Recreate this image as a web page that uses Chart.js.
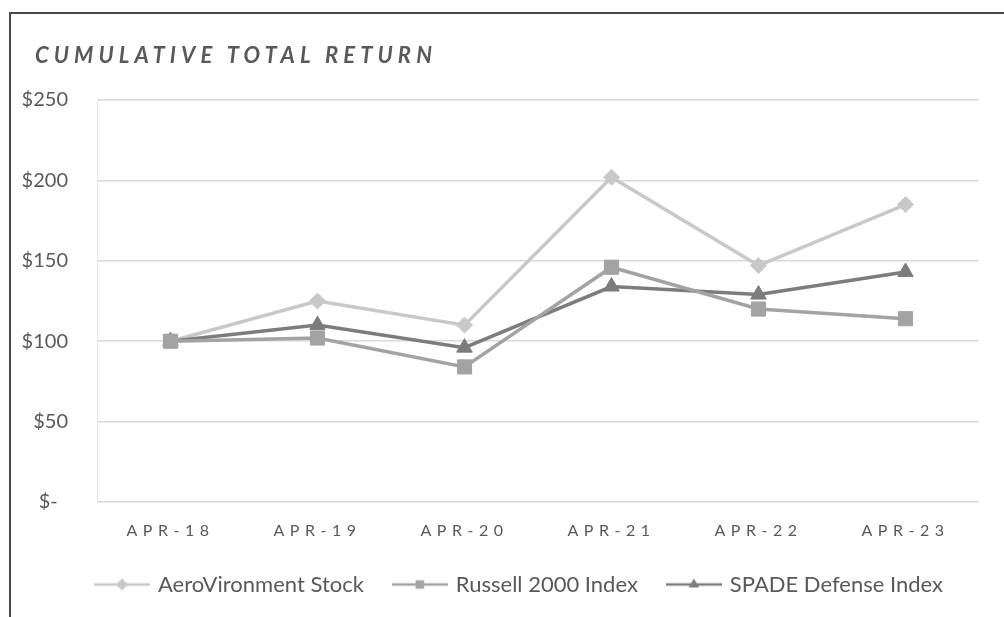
<!DOCTYPE html>
<html>
<head>
<meta charset="utf-8">
<script src="https://cdn.jsdelivr.net/npm/chart.js@4.4.0/dist/chart.umd.min.js"></script>
<style>
  html, body { margin: 0; padding: 0; background: #fff; }
  #wrap { position: relative; width: 1004px; height: 617px; overflow: hidden; }
  #frame { position: absolute; left: 9px; top: 12px; width: 1100px; height: 700px;
           border-top: 2px solid #4a4a4a; border-left: 2px solid #4a4a4a; }
  #title { position: absolute; left: 35px; top: 41px; font: italic bold 22px Lato;
           letter-spacing: 5.1px; color: #595959; white-space: nowrap; }
  canvas { position: absolute; left: 0; top: 0; }
</style>
</head>
<body>
<div id="wrap">
  <div id="frame"></div>
  <canvas id="returnChart" width="1004" height="617"></canvas>
  <div id="title">CUMULATIVE TOTAL RETURN</div>
</div>
<script>
// données
const categories = ['APR-18', 'APR-19', 'APR-20', 'APR-21', 'APR-22', 'APR-23'];
const seriesNames = ['AeroVironment Stock', 'Russell 2000 Index', 'SPADE Defense Index'];
const aeroValues = [100, 125, 110, 202, 147, 185];
const russellValues = [100, 102, 84, 146, 120, 114];
const spadeValues = [100, 110, 96, 134, 129, 143];
const yTickValues = [0, 50, 100, 150, 200, 250];
const yTickLabels = ['$-  ', '$50', '$100', '$150', '$200', '$250'];

const seriesColors = ['#c8c8c8', '#a3a3a3', '#7c7c7c'];
const seriesStyles = ['rectRot', 'rect', 'triangle'];
const seriesRadius = [8, 10, 9];

// petit symbole de légende : trait + marqueur
function legendSymbol(color, style, radius) {
  const c = document.createElement('canvas');
  c.width = 56;
  c.height = 20;
  const g = c.getContext('2d');
  g.strokeStyle = color;
  g.lineWidth = 2.5;
  g.beginPath();
  g.moveTo(0, 10);
  g.lineTo(56, 10);
  g.stroke();
  g.fillStyle = color;
  g.strokeStyle = color;
  Chart.helpers.drawPoint(g, { pointStyle: style, radius: radius, borderWidth: 0, rotation: 0 }, 28, 10);
  return c;
}

// espacement des lettres pour les étiquettes de l'axe X (dessinées après les séries)
const tickSpacing = {
  id: 'tickSpacing',
  afterDatasetsDraw(chart) { chart.ctx.letterSpacing = '5.5px'; },
  afterDraw(chart) { chart.ctx.letterSpacing = '0px'; }
};

// décale la légende pour l'aligner sous la zone du graphique
const legendShift = {
  id: 'legendShift',
  afterLayout(chart) { chart.legend.left = 66; }
};

const allValues = [aeroValues, russellValues, spadeValues];

new Chart(document.getElementById('returnChart'), {
  type: 'line',
  data: {
    labels: categories,
    datasets: allValues.map((vals, i) => ({
      label: seriesNames[i],
      data: vals,
      borderColor: seriesColors[i],
      backgroundColor: seriesColors[i],
      borderWidth: 3.5,
      pointStyle: seriesStyles[i],
      pointRadius: seriesRadius[i],
      pointBorderWidth: 1,
      pointBorderColor: seriesColors[i],
      pointBackgroundColor: seriesColors[i],
      tension: 0,
      order: [3, 1, 2][i]
    }))
  },
  options: {
    responsive: false,
    animation: false,
    layout: { padding: { left: 10, right: 25, top: 100, bottom: 11.5 } },
    plugins: {
      title: { display: false },
      tooltip: { enabled: false },
      legend: {
        position: 'bottom',
        align: 'start',
        labels: {
          usePointStyle: true,
          pointStyleWidth: 50,
          padding: 31,
          color: '#595959',
          font: { family: 'Lato', size: 22 },
          generateLabels(chart) {
            return chart.data.datasets.map((ds, i) => ({
              text: ds.label,
              pointStyle: legendSymbol(seriesColors[i], seriesStyles[i], 6),
              fillStyle: seriesColors[i],
              strokeStyle: seriesColors[i],
              lineWidth: 0,
              fontColor: '#595959',
              datasetIndex: i,
              hidden: false
            }));
          }
        }
      }
    },
    scales: {
      x: {
        offset: true,
        grid: { display: false, drawTicks: false },
        border: { display: false },
        ticks: {
          z: 1,
          padding: 19,
          maxRotation: 0,
          autoSkip: false,
          color: '#595959',
          font: { family: 'Lato', size: 16 }
        },
        afterFit(scale) { scale.height = 40.5; }
      },
      y: {
        min: 0,
        max: 250,
        grid: { color: '#d9d9d9', lineWidth: 1.5, drawTicks: false },
        border: { display: true, color: '#e3e3e3', width: 1 },
        ticks: {
          stepSize: 50,
          padding: 29,
          color: '#595959',
          font: { family: 'Lato', size: 20 },
          callback: function(value) {
            const idx = yTickValues.indexOf(value);
            return idx >= 0 ? yTickLabels[idx] : '';
          }
        },
        afterFit(scale) { scale.width = 87; }
      }
    }
  },
  plugins: [tickSpacing, legendShift]
});
</script>
</body>
</html>
